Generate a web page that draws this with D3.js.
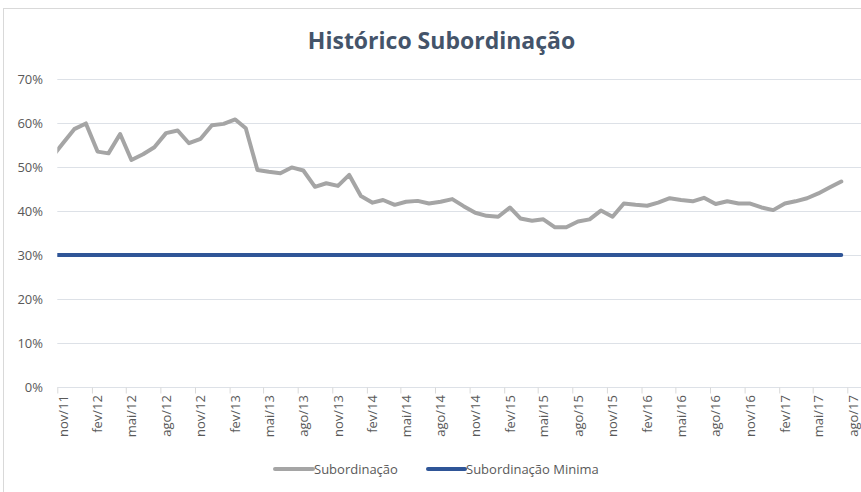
<!DOCTYPE html>
<html>
<head>
<meta charset="utf-8">
<script src="https://cdn.jsdelivr.net/npm/d3@7"></script>
<style>
  html, body { margin: 0; padding: 0; background: #fff; }
  svg { display: block; font-family: "Open Sans", sans-serif; }
</style>
</head>
<body>
<svg id="chart" width="861" height="492"></svg>
<script>
// ---- Data ----
const title = "Histórico Subordinação";
const seriesNames = ["Subordinação", "Subordinação Minima"];
const monthNames = ["jan","fev","mar","abr","mai","jun","jul","ago","set","out","nov","dez"];
// first data month: out/2011, monthly through jul/2017 (70 points)
const firstMonth = [2011, 9];
const subordinacao = [
  52.0, 55.4, 58.6, 59.9, 53.5, 53.1, 57.5, 51.6, 52.9, 54.5,
  57.7, 58.3, 55.4, 56.4, 59.5, 59.8, 60.8, 58.8, 49.3, 48.9,
  48.6, 49.9, 49.2, 45.5, 46.3, 45.7, 48.2, 43.4, 41.9, 42.5,
  41.4, 42.1, 42.3, 41.7, 42.1, 42.7, 41.1, 39.6, 38.9, 38.7,
  40.8, 38.3, 37.8, 38.1, 36.3, 36.3, 37.6, 38.1, 40.1, 38.7,
  41.7, 41.4, 41.2, 41.9, 42.9, 42.5, 42.2, 43.0, 41.6, 42.2,
  41.7, 41.7, 40.8, 40.2, 41.7, 42.2, 42.9, 44.0, 45.4, 46.7
];
const subordinacaoMinima = subordinacao.map(() => 30);
const yTicks = [0, 10, 20, 30, 40, 50, 60, 70];
const axisStart = [2011, 10]; // nov/11
const axisEnd = [2017, 7];    // ago/17

// ---- Layout ----
const svg = d3.select("#chart");
const W = 861, H = 492;
const plotLeft = 57.3, plotRight = 861, plotTop = 79, plotBottom = 387;

const dates = subordinacao.map((_, i) => d3.timeDay.offset(d3.timeMonth.offset(new Date(firstMonth[0], firstMonth[1], 1), i), 15));

const startDate = new Date(axisStart[0], axisStart[1], 1);
const endDate = new Date(axisEnd[0], axisEnd[1], 1);
const x = d3.scaleTime().domain([startDate, endDate]).range([plotLeft, 847.3]);
const y = d3.scaleLinear().domain([0, 70]).range([plotBottom, plotTop]);

// frame
svg.append("rect").attr("x", 3.5).attr("y", 8.5).attr("width", W + 10).attr("height", H + 10)
  .attr("fill", "#fff").attr("stroke", "#d9d9d9").attr("stroke-width", 1);

// title
svg.append("text").attr("x", 441.5).attr("y", 48.5).attr("text-anchor", "middle")
  .attr("font-size", 23).attr("font-weight", "bold").attr("fill", "#44546a").text(title);

// gridlines
svg.append("g").selectAll("line").data(yTicks).join("line")
  .attr("x1", plotLeft).attr("x2", plotRight)
  .attr("y1", d => Math.round(y(d)) + 0.5).attr("y2", d => Math.round(y(d)) + 0.5)
  .attr("stroke", "#dde1e7").attr("stroke-width", 1);

// y labels
svg.append("g").selectAll("text").data(yTicks).join("text")
  .attr("x", 43).attr("y", d => y(d)).attr("dy", "0.36em").attr("text-anchor", "end")
  .attr("font-size", 13).attr("fill", "#595959").text(d => d + "%");

// x axis ticks every 3 months starting nov/11
const tickDates = d3.timeMonth.range(startDate, d3.timeMonth.offset(endDate, 1), 3);
const xAxis = d3.axisBottom(x).tickValues(tickDates).tickSize(6).tickFormat("");
const gx = svg.append("g").attr("transform", `translate(0,${Math.round(plotBottom) + 0.5})`).call(xAxis);
gx.select(".domain").remove();
gx.selectAll(".tick line").attr("stroke", "#d9d9d9");

svg.append("g").selectAll("text").data(tickDates).join("text")
  .attr("transform", d => `translate(${x(d) + 10.5},395) rotate(-90)`)
  .attr("text-anchor", "end").attr("font-size", 13).attr("fill", "#595959")
  .text(d => monthNames[d.getMonth()] + "/" + String(d.getFullYear()).slice(2));

// clip
svg.append("clipPath").attr("id", "plotclip").append("rect")
  .attr("x", plotLeft).attr("y", 0).attr("width", plotRight - plotLeft).attr("height", H);

const line = d3.line().x((d, i) => x(dates[i])).y(d => y(d));
const g = svg.append("g").attr("clip-path", "url(#plotclip)");
g.append("path").datum(subordinacaoMinima).attr("d", line)
  .attr("fill", "none").attr("stroke", "#2f5597").attr("stroke-width", 4).attr("stroke-linecap", "round");
g.append("path").datum(subordinacao).attr("d", line)
  .attr("fill", "none").attr("stroke", "#a5a5a5").attr("stroke-width", 4)
  .attr("stroke-linejoin", "round").attr("stroke-linecap", "round");

// legend
const legend = [
  {name: seriesNames[0], color: "#a5a5a5", x1: 275, x2: 313},
  {name: seriesNames[1], color: "#2f5597", x1: 428, x2: 465}
];
const lg = svg.append("g");
legend.forEach(l => {
  lg.append("line").attr("x1", l.x1).attr("x2", l.x2).attr("y1", 469).attr("y2", 469)
    .attr("stroke", l.color).attr("stroke-width", 4).attr("stroke-linecap", "round");
  lg.append("text").attr("x", l.x2 + 1).attr("y", 469).attr("dy", "0.36em")
    .attr("font-size", 13).attr("fill", "#595959").text(l.name);
});
</script>
</body>
</html>
